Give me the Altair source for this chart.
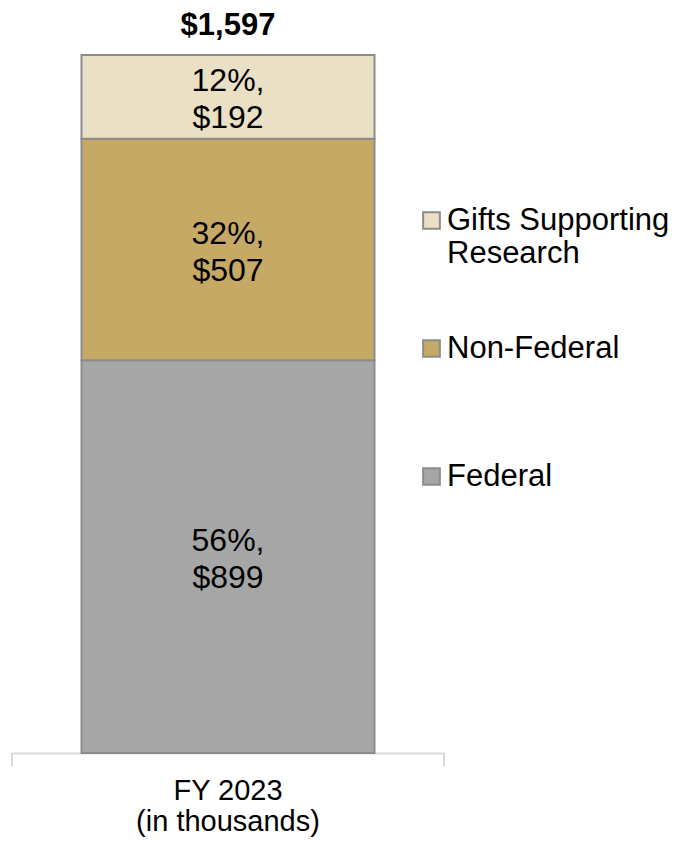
import altair as alt
import pandas as pd

categories = ["Federal", "Non-Federal", "Gifts Supporting Research"]
values = [899, 507, 192]
percents = [56, 32, 12]
colors = ["#A5A6A5", "#C6A964", "#EAE0C5"]
period = "FY 2023"
total_reported = [1597]

df = pd.DataFrame({
    "period": [period] * len(categories),
    "source": categories,
    "value": values,
    "order": list(range(len(categories))),
    "label": [f"{p}%,\n${v:,}" for p, v in zip(percents, values)],
})
df_total = pd.DataFrame({"period": [period], "total": [float(sum(values))], "reported": total_reported})
df_total["txt"] = ["$" + f"{t:,}" for t in total_reported]
scale_max = sum(values)
FONT = "Liberation Sans"

xenc = alt.X(
    "period:N",
    title=None,
    scale=alt.Scale(paddingInner=0, paddingOuter=0),
    axis=alt.Axis(
        ticks=False,
        domainColor="#D9D9D9",
        domainWidth=2,
        labelAngle=0,
        labelFont=FONT,
        labelFontSize=29,
        labelColor="#000000",
        labelLineHeight=31,
        labelPadding=23,
        labelLimit=0,
        labelExpr="[datum.label, '(in thousands)']",
    ),
)
yscale = alt.Scale(domain=[0, scale_max], nice=False, zero=True)

bars = alt.Chart(df).mark_bar(size=293, stroke="#8C8C8C", strokeWidth=2).encode(
    x=xenc,
    y=alt.Y("value:Q", stack="zero", scale=yscale, axis=None),
    color=alt.Color(
        "source:N",
        scale=alt.Scale(domain=categories, range=colors),
        legend=alt.Legend(
            title=None,
            orient="none",
            legendX=404,
            legendY=150,
            values=categories[::-1],
            symbolType="square",
            symbolSize=280,
            symbolStrokeColor="#8C8C8C",
            symbolStrokeWidth=2,
            symbolOpacity=1,
            labelFont=FONT,
            labelFontSize=31,
            labelColor="#000000",
            labelLimit=0,
            labelOffset=0,
            gridAlign="all",
            rowPadding=63,
            labelExpr="datum.label == 'Gifts Supporting Research' ? ['Gifts Supporting', 'Research'] : datum.label",
        ),
    ),
    order=alt.Order("order:Q", sort="ascending"),
)

end_ticks = [
    alt.Chart(df_total).mark_rule(color="#D9D9D9", strokeWidth=2).encode(
        x=alt.X("period:N", bandPosition=bp),
        y=alt.value(698),
        y2=alt.value(711),
    )
    for bp in (0, 1)
]

labels = alt.Chart(df).transform_stack(
    stack="value", as_=["y0", "y1"], groupby=["period"], sort=[alt.SortField("order")]
).transform_calculate(
    mid="(datum.y0 + datum.y1) / 2"
).mark_text(font=FONT, fontSize=32, lineBreak="\n", lineHeight=37, dy=-16,
            color="#000000", baseline="middle").encode(
    x=alt.X("period:N"),
    y=alt.Y("mid:Q", scale=yscale),
    text="label:N",
)

totals = alt.Chart(df_total).mark_text(
    font=FONT, fontSize=31, fontWeight="bold", dy=-29, color="#000000", baseline="middle"
).encode(
    x=alt.X("period:N"),
    y=alt.Y("total:Q", scale=yscale),
    text="txt:N",
)

chart = alt.layer(bars, *end_ticks, labels, totals).properties(
    width=432,
    height=698,
    autosize=alt.AutoSizeParams(type="none"),
    padding={"left": 4, "top": 47, "right": 232, "bottom": 86},
).configure_view(stroke=None)

chart.save("out.html", embed_options={"renderer": "svg", "actions": False})
